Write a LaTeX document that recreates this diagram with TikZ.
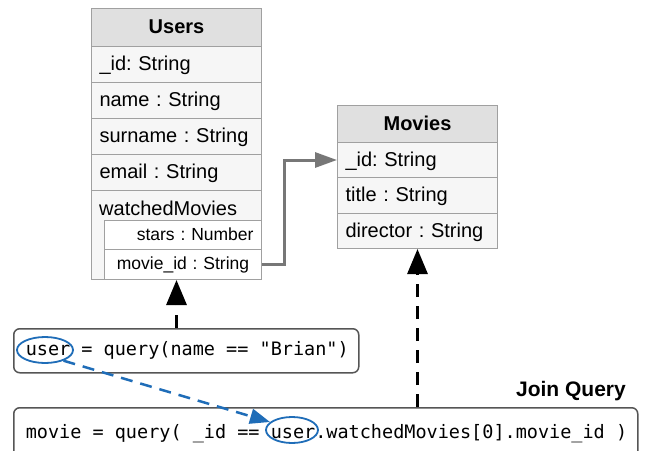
\documentclass[tikz,border=0pt]{standalone}
\usepackage{fontspec}
\setmainfont{Liberation Sans}
\newfontfamily\codefont{DejaVu Sans Mono}
\usetikzlibrary{arrows.meta,shapes.geometric}
\definecolor{hdr}{HTML}{E0E0E0}
\definecolor{rowbg}{HTML}{F6F6F6}
\definecolor{bord}{HTML}{A0A0A0}
\definecolor{qbord}{HTML}{555555}
\definecolor{conn}{HTML}{777777}
\definecolor{blu}{HTML}{1F6DB8}
\frenchspacing
\begin{document}
\begin{tikzpicture}[x=1pt,y=-1pt,
  cell/.style={draw=bord, line width=1pt, fill=rowbg, anchor=north west, inner xsep=8pt, inner ysep=0pt, align=left, text height=14pt, text depth=2pt, font=\fontsize{20}{24}\selectfont},
  hcell/.style={cell, fill=hdr, align=center, font=\bfseries\fontsize{20}{24}\selectfont},
  ncell/.style={cell, fill=white, text height=12pt, text depth=2pt, font=\fontsize{17.5}{21}\selectfont},
  qbox/.style={draw=qbord, line width=1.5pt, rounded corners=6pt, fill=white, anchor=north west, inner xsep=12pt, inner ysep=0pt, font=\codefont\fontsize{18.5}{22}\selectfont},
  ell/.style={ellipse, draw=blu, line width=1.8pt, inner sep=0pt, minimum height=26pt},
  lbl/.style={inner sep=0pt, font=\fontsize{20}{24}\selectfont}
]
\fill[white] (0,0) rectangle (650,450);
\useasboundingbox (0,0) rectangle (650,450);
\clip (0,0) rectangle (650,450);

% Users table
\node[hcell, text width=154pt, minimum height=38pt] (uH) at (91,8) {Users};
\node[cell, text width=154pt, minimum height=36pt] (uId) at (91,46) {\_id: String};
\node[cell, text width=154pt, minimum height=36pt] (uName) at (91,82) {name : String};
\node[cell, text width=154pt, minimum height=36pt] (uSur) at (91,118) {surname : String};
\node[cell, text width=154pt, minimum height=36pt] (uEm) at (91,154) {email : String};
\node[cell, text width=154pt, minimum height=89pt] (uW) at (91,190) {};
\node[lbl, anchor=west] (uWl) at (99,208) {watchedMovies};
\node[ncell, text width=141pt, minimum height=29pt, align=right] (uS) at (104,220) {stars : Number};
\node[ncell, text width=141pt, minimum height=30pt, align=center] (uM) at (104,249) {movie\_id : String};

% Movies table
\node[hcell, text width=144pt, minimum height=37pt] (mH) at (337,105) {Movies};
\node[cell, text width=144pt, minimum height=35pt] (mId) at (337,142) {\_id: String};
\node[cell, text width=144pt, minimum height=36pt] (mT) at (337,177) {title : String};
\node[cell, text width=144pt, minimum height=35pt] (mD) at (337,213) {director : String};

% Queries
\node[qbox, minimum height=44pt] (q1) at (13,328) {\makebox[321pt][l]{user = query(name == "Brian")}};
\node[qbox, minimum height=52pt] (q2) at (13,407) {\makebox[600pt][l]{movie = query( \_id == user.watchedMovies[0].movie\_id )}};
\node[anchor=base east, inner sep=0pt, font=\bfseries\fontsize{21}{25}\selectfont] (jq) at (626,396) {Join Query};

% Highlights
\node[ell, minimum width=56pt] (e1) at (45,350) {};
\node[ell, minimum width=52pt] (e2) at (292,430) {};

% Connectors
\draw[conn, line width=3pt, -{Triangle[length=22pt,width=15pt]}] (uM.east) -- ++(22,0) |- (mId.west);
\draw[black, line width=3pt, dash pattern=on 13pt off 10pt, -{Triangle[length=25pt,width=20pt]}] (q1.north -| uW.south) -- (uW.south);
\draw[black, line width=3pt, dash pattern=on 13pt off 9pt, -{Triangle[length=25pt,width=20pt]}] (q2.north -| mD.south) -- (mD.south);
\draw[blu, line width=2.5pt, dash pattern=on 12pt off 8pt, -{Triangle[length=20pt,width=15pt]}] (e1.-30) -- (e2.160);
\end{tikzpicture}
\end{document}
